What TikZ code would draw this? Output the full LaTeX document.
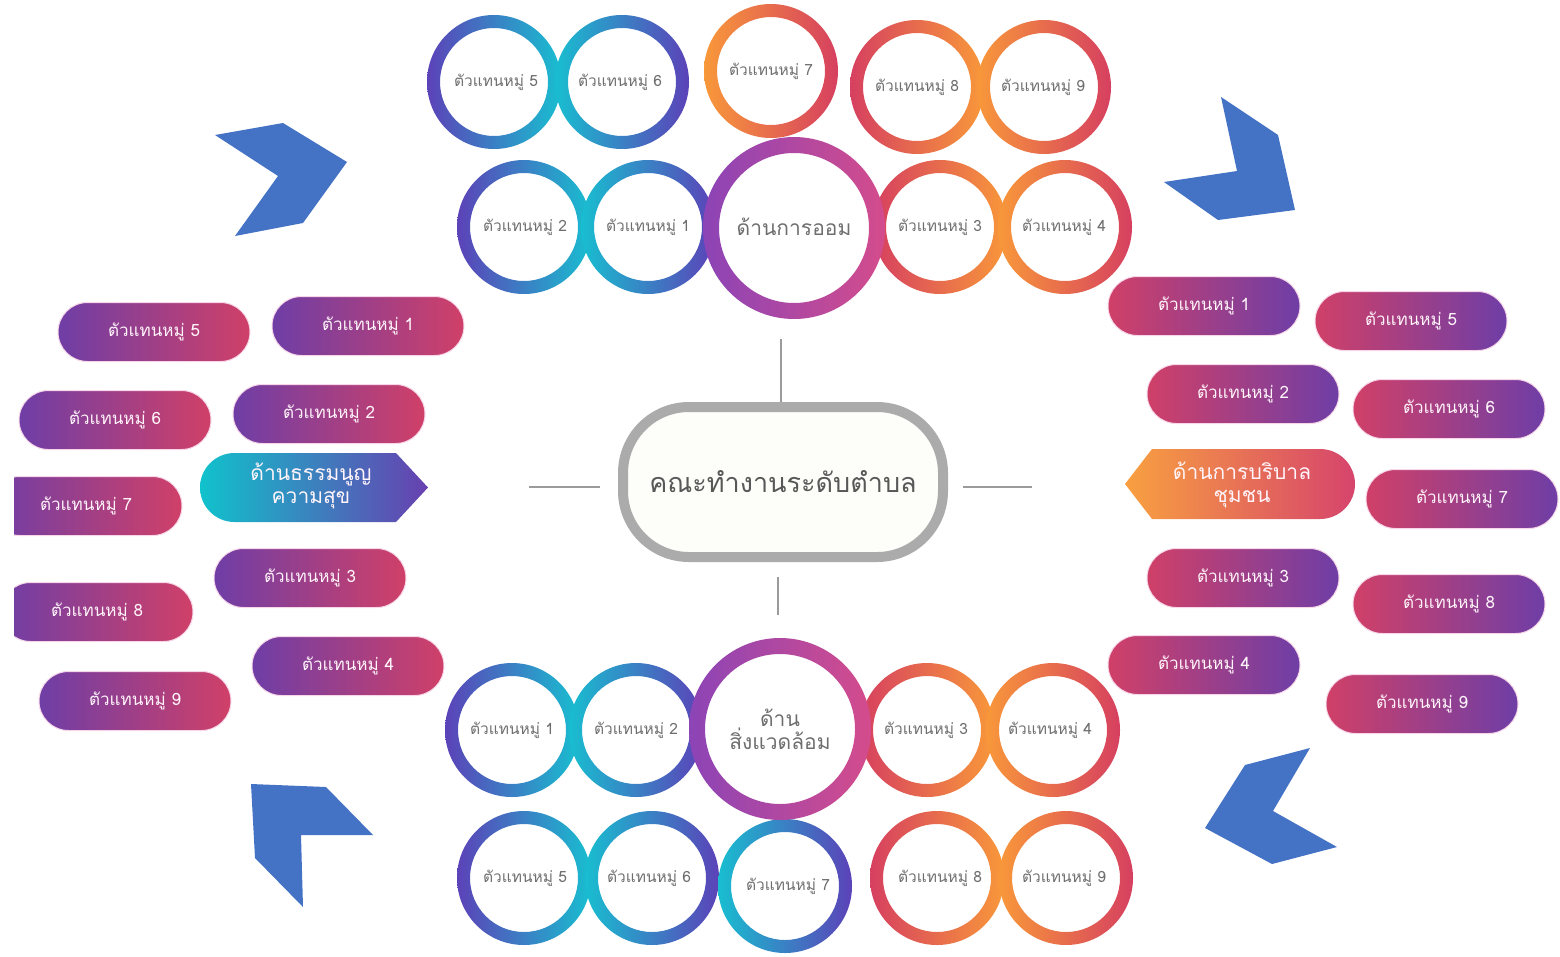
\documentclass[tikz,border=0pt]{standalone}
\usepackage{fontspec}
\newfontfamily\thaifont[Script=Thai]{Loma}
\definecolor{ringpurple}{RGB}{92,66,184}
\definecolor{ringcyan}{RGB}{24,190,208}
\definecolor{ringcrimson}{RGB}{214,64,96}
\definecolor{ringorange}{RGB}{248,152,58}
\definecolor{ringviolet}{RGB}{140,68,182}
\definecolor{ringpink}{RGB}{214,94,194}
\definecolor{ringrose}{RGB}{212,76,140}
\definecolor{ringtext}{RGB}{110,110,110}
\definecolor{pillpurple}{RGB}{110,62,166}
\definecolor{pillred}{RGB}{208,64,104}
\definecolor{pilledge}{RGB}{246,214,232}
\definecolor{pilltext}{RGB}{255,244,250}
\definecolor{harmcyan}{RGB}{16,194,204}
\definecolor{harmpurple}{RGB}{104,64,176}
\definecolor{careorange}{RGB}{248,160,64}
\definecolor{carered}{RGB}{214,68,108}
\definecolor{chevblue}{RGB}{68,114,196}
\definecolor{stubgray}{RGB}{155,155,155}
\definecolor{teamgray}{RGB}{171,171,171}
\definecolor{teamfill}{RGB}{253,253,249}
\definecolor{teamtext}{RGB}{88,88,88}

\tikzset{
  ring/.style={even odd rule},
  member/.style={font=\thaifont\fontsize{15.5}{17}\selectfont, text=ringtext, inner sep=0pt},
  topic/.style={font=\thaifont\fontsize{21}{23}\selectfont, text=ringtext, align=center, inner sep=0pt},
  pill/.style={rounded corners=29.5pt, minimum width=192pt, minimum height=59pt, draw=pilledge, line width=1pt, text=pilltext, font=\thaifont\fontsize{17}{19}\selectfont},
  pillL/.style={pill, left color=pillpurple, right color=pillred},
  pillR/.style={pill, left color=pillred, right color=pillpurple},
  sidelabel/.style={text=pilltext, align=center, inner sep=0pt, font=\thaifont\fontsize{21}{23}\selectfont},
  chevron/.style={fill=chevblue},
  stub/.style={draw=stubgray, line width=2.5pt},
  team/.style={draw=teamgray, fill=teamfill, line width=10pt, rounded corners=66pt, minimum width=320pt, minimum height=150pt, text=teamtext, font=\thaifont\fontsize{27}{30}\selectfont}
}

\begin{document}
\begin{tikzpicture}[x=1pt, y=-1pt]
        \useasboundingbox (0,0) rectangle (1560,956);

        % Chevrons
        \fill[chevron] (215,135) -- (283,123) -- (347,162) -- (303,223) -- (235,236) -- (278,176) -- cycle;
        \fill[chevron] (1221,97) -- (1278,135) -- (1295,210) -- (1218,220) -- (1164,182) -- (1237,171) -- cycle;
        \fill[chevron] (1310,748) -- (1245,765) -- (1205,828) -- (1272,864) -- (1337,847) -- (1273,811) -- cycle;
        \fill[chevron] (251,784) -- (326,787) -- (373,835) -- (301,835) -- (303,907) -- (255,858) -- cycle;

        % Savings rings (top)
        \shade[ring, left color=ringpurple, right color=ringcyan] (494,82) circle (67) circle (54);
        \shade[ring, left color=ringcyan, right color=ringpurple] (622,82) circle (67) circle (54);
        \shade[ring, left color=ringorange, right color=ringcrimson] (771,71) circle (67) circle (54);
        \shade[ring, left color=ringcrimson, right color=ringorange] (917,87) circle (67) circle (54);
        \shade[ring, left color=ringorange, right color=ringcrimson] (1044,87) circle (67) circle (54);
        \shade[ring, left color=ringpurple, right color=ringcyan] (524,227) circle (67) circle (54);
        \shade[ring, left color=ringcyan, right color=ringpurple] (648,227) circle (67) circle (54);
        \shade[ring, left color=ringcrimson, right color=ringorange] (940,227) circle (67) circle (54);
        \shade[ring, left color=ringorange, right color=ringcrimson] (1065,227) circle (67) circle (54);
        \shade[ring, left color=ringviolet, middle color=ringpink, right color=ringrose] (794,228) circle (91) circle (75);

        \node[member] (sv5) at (496,82) {ตัวแทนหมู่ 5};
        \node[member] (sv6) at (620,82) {ตัวแทนหมู่ 6};
        \node[member] (sv7) at (771,71) {ตัวแทนหมู่ 7};
        \node[member] (sv8) at (917,87) {ตัวแทนหมู่ 8};
        \node[member] (sv9) at (1043,87) {ตัวแทนหมู่ 9};
        \node[member] (sv2) at (525,227) {ตัวแทนหมู่ 2};
        \node[member] (sv1) at (648,227) {ตัวแทนหมู่ 1};
        \node[member] (sv3) at (940,227) {ตัวแทนหมู่ 3};
        \node[member] (sv4) at (1064,227) {ตัวแทนหมู่ 4};
        \node[topic] (saving) at (794,227) {ด้านการออม};

        % Environment rings (bottom)
        \shade[ring, left color=ringpurple, right color=ringcyan] (512,730) circle (67) circle (54);
        \shade[ring, left color=ringcyan, right color=ringpurple] (636,730) circle (67) circle (54);
        \shade[ring, left color=ringcrimson, right color=ringorange] (927,730) circle (67) circle (54);
        \shade[ring, left color=ringorange, right color=ringcrimson] (1053,730) circle (67) circle (54);
        \shade[ring, left color=ringpurple, right color=ringcyan] (524,878) circle (67) circle (54);
        \shade[ring, left color=ringcyan, right color=ringpurple] (652,878) circle (67) circle (54);
        \shade[ring, left color=ringcyan, right color=ringpurple] (785,886) circle (67) circle (54);
        \shade[ring, left color=ringcrimson, right color=ringorange] (937,878) circle (67) circle (54);
        \shade[ring, left color=ringorange, right color=ringcrimson] (1066,878) circle (67) circle (54);
        \shade[ring, left color=ringviolet, middle color=ringpink, right color=ringrose] (780,729) circle (91) circle (75);

        \node[member] (ev1) at (512,730) {ตัวแทนหมู่ 1};
        \node[member] (ev2) at (636,730) {ตัวแทนหมู่ 2};
        \node[member] (ev3) at (926,730) {ตัวแทนหมู่ 3};
        \node[member] (ev4) at (1050,730) {ตัวแทนหมู่ 4};
        \node[member] (ev5) at (525,878) {ตัวแทนหมู่ 5};
        \node[member] (ev6) at (649,878) {ตัวแทนหมู่ 6};
        \node[member] (ev7) at (788,886) {ตัวแทนหมู่ 7};
        \node[member] (ev8) at (940,878) {ตัวแทนหมู่ 8};
        \node[member] (ev9) at (1064,878) {ตัวแทนหมู่ 9};
        \node[topic] (environment) at (780,729) {ด้าน\\สิ่งแวดล้อม};

        % Happiness charter pills (left)
        \begin{scope}
            \clip (14,0) rectangle (1560,956);
            \node[pillL] (hc5) at (154,332) {ตัวแทนหมู่ 5};
            \node[pillL] (hc1) at (368,326) {ตัวแทนหมู่ 1};
            \node[pillL] (hc6) at (115,420) {ตัวแทนหมู่ 6};
            \node[pillL] (hc2) at (329,414) {ตัวแทนหมู่ 2};
            \node[pillL] (hc7) at (86,506) {ตัวแทนหมู่ 7};
            \node[pillL] (hc3) at (310,578) {ตัวแทนหมู่ 3};
            \node[pillL] (hc8) at (97,612) {ตัวแทนหมู่ 8};
            \node[pillL] (hc4) at (348,666) {ตัวแทนหมู่ 4};
            \node[pillL] (hc9) at (135,701) {ตัวแทนหมู่ 9};
        \end{scope}
        \shade[left color=harmcyan, right color=harmpurple] (396,453) -- (234.5,453) arc[start angle=270, end angle=90, radius=34.5] -- (396,522) -- (428,487.5) -- cycle;
        \node[sidelabel] (harmony) at (311,486) {ด้านธรรมนูญ\\ความสุข};

        % Community care pills (right)
        \node[pillR] (cc1) at (1204,306) {ตัวแทนหมู่ 1};
        \node[pillR] (cc5) at (1411,321) {ตัวแทนหมู่ 5};
        \node[pillR] (cc2) at (1243,394) {ตัวแทนหมู่ 2};
        \node[pillR] (cc6) at (1449,409) {ตัวแทนหมู่ 6};
        \node[pillR] (cc7) at (1462,499) {ตัวแทนหมู่ 7};
        \node[pillR] (cc3) at (1243,578) {ตัวแทนหมู่ 3};
        \node[pillR] (cc8) at (1449,604) {ตัวแทนหมู่ 8};
        \node[pillR] (cc4) at (1204,665) {ตัวแทนหมู่ 4};
        \node[pillR] (cc9) at (1422,704) {ตัวแทนหมู่ 9};
        \shade[left color=careorange, right color=carered] (1152,449) -- (1320,449) arc[start angle=270, end angle=450, radius=35] -- (1152,519) -- (1125,484) -- cycle;
        \node[sidelabel] (care) at (1242,485) {ด้านการบริบาล\\ชุมชน};

        % Centre
        \node[team] (team) at (783,482) {คณะทำงานระดับตำบล};
        \coordinate (savestub) at (781,339);
        \coordinate (envstub) at (778,615);
        \coordinate (harmstub) at (529,487);
        \coordinate (carestub) at (1032,487);
        \draw[stub] (savestub) -- (savestub |- team.north);
        \draw[stub, shorten >=15pt] (envstub) -- (envstub |- team.south);
        \draw[stub, shorten >=18pt] (harmstub) -- (harmstub -| team.west);
        \draw[stub, shorten >=15pt] (carestub) -- (carestub -| team.east);
    \end{tikzpicture}
\end{document}
